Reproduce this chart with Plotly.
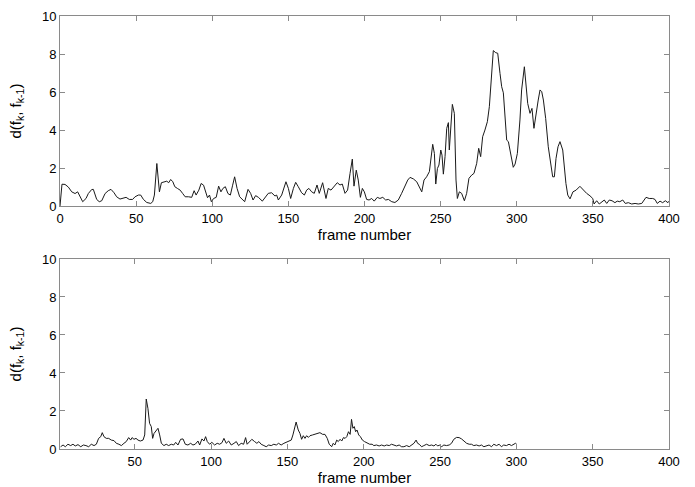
import plotly.graph_objects as go
from plotly.subplots import make_subplots

# ---- top panel data (frame number, distance) ----
top_frames = [0, 1.3, 3.3, 5.5, 7.7, 9.9, 11.6, 13.1, 14.9, 17.1, 18.6, 20.8, 21.9, 24.1, 25.8, 27.4,
              29.6, 31.7, 33.5, 35.5, 37.2, 39.4, 41.2, 43.4, 45.5, 47.7, 49.3, 51.5, 53.0, 54.8, 57.0,
              59.6, 60.9, 62.0, 63.6, 64.4, 65.3, 66.6, 68.4, 70.1, 71.4, 72.7, 74.1, 75.4, 77.1, 78.9,
              80.6, 82.2, 84.4, 86.5, 88.1, 89.4, 91.2, 92.7, 94.3, 95.6, 96.9, 98.2, 99.4, 100.9, 102.6,
              104.2, 105.7, 107.0, 108.6, 110.3, 111.9, 113.4, 114.7, 116.3, 118.0, 121.3, 123.5, 125.2,
              126.8, 128.5, 130.3, 132.9, 134.6, 136.8, 139.0, 141.2, 142.3, 143.4, 145.6, 148.4, 150.0,
              151.5, 153.3, 154.8, 156.5, 158.7, 160.5, 162.0, 163.5, 165.3, 167.0, 168.8, 170.3, 172.5,
              174.7, 176.2, 178.0, 180.0, 182.1, 183.9, 185.4, 187.2, 188.9, 190.5, 192.0, 193.1, 194.6,
              195.9, 197.3, 198.6, 199.9, 201.4, 203.0, 204.7, 206.4, 208.4, 210.1, 212.0, 213.9, 215.7,
              217.9, 220.0, 222.2, 224.4, 226.6, 228.4, 229.9, 232.1, 234.3, 236.0, 237.6, 239.1, 240.8,
              242.6, 243.5, 244.8, 245.9, 246.8, 247.9, 248.9, 250.1, 250.9, 251.8, 252.9, 254.0, 255.1,
              255.7, 256.6, 257.7, 259.0, 260.1, 261.0, 262.3, 263.8, 265.6, 267.1, 268.6, 270.4, 271.9,
              273.7, 275.0, 276.3, 277.6, 279.1, 280.7, 282.0, 283.1, 284.6, 286.2, 287.5, 289.0, 290.1,
              291.2, 292.3, 293.4, 294.5, 296.2, 297.7, 298.9, 300.4, 302.1, 303.2, 305.0, 306.1, 307.2,
              308.7, 310.0, 311.3, 312.6, 314.1, 315.3, 316.4, 317.5, 319.0, 320.7, 322.3, 323.6, 324.7,
              325.8, 327.1, 328.4, 330.2, 331.1, 332.3, 333.5, 335.0, 336.9, 339.0, 341.5, 343.7, 345.9,
              348.1, 349.9, 350.8, 352.5, 354.2, 355.8, 357.5, 359.1, 360.8, 362.6, 364.5, 366.0, 367.7,
              369.6, 371.3, 373.3, 375.5, 377.7, 379.8, 382.1, 383.6, 384.9, 387.0, 389.3, 390.8, 392.3,
              394.1, 395.8, 397.6, 399.3, 400]
top_values = [0, 1.15, 1.14, 1.0, 0.75, 0.66, 0.75, 0.49, 0.23, 0.40, 0.66, 0.87, 0.88, 0.35, 0.23, 0.28,
              0.66, 0.81, 0.88, 0.70, 0.49, 0.37, 0.40, 0.46, 0.35, 0.35, 0.49, 0.58, 0.58, 0.35, 0.19,
              0.14, 0.23, 0.58, 2.24, 1.37, 0.75, 1.23, 1.28, 1.31, 1.23, 1.40, 1.28, 1.02, 0.93, 0.84,
              0.66, 0.49, 0.49, 0.46, 0.81, 0.58, 0.84, 1.19, 1.10, 0.75, 0.44, 0.58, 0.23, 0.40, 0.46,
              1.05, 0.75, 0.93, 1.02, 0.66, 0.58, 1.10, 1.54, 0.93, 0.49, 0.23, 0.88, 0.67,
              0.32, 0.55, 0.46, 0.26, 0.46, 0.67, 0.70, 0.53, 0.58, 0.32, 0.58, 1.28, 0.93,
              0.40, 0.93, 1.25, 1.02, 0.70, 0.58, 0.84, 0.93, 0.75, 0.67, 1.11, 0.67, 1.23,
              0.40, 0.93, 0.84, 1.02, 1.23, 1.11, 1.16, 0.67, 0.84, 1.72, 2.47, 1.05, 1.89,
              1.37, 0.46, 0.93, 0.75, 0.35, 0.32, 0.40, 0.26, 0.46, 0.40, 0.46, 0.32, 0.35,
              0.23, 0.19, 0.32, 0.67, 1.02, 1.37, 1.51, 1.43, 1.28, 1.02, 0.75, 1.37, 1.54,
              1.81, 2.42, 3.25, 2.77, 1.16, 1.98, 2.16, 2.95, 2.68, 1.68, 2.60, 4.09, 4.39,
              2.95, 4.09, 5.35, 4.88, 1.37, 0.40, 0.75, 0.67, 0.28, 0.67, 1.46, 1.63, 1.72,
              2.25, 3.04, 2.60, 3.65, 4.00, 4.44, 5.23, 6.46, 8.18, 8.07, 8.04, 6.98, 6.28,
              5.96, 4.70, 3.47, 3.39, 2.60, 2.04, 2.21, 2.77, 4.53, 6.11, 7.33, 6.28, 5.40,
              4.88, 5.14, 4.09, 4.88, 5.58, 6.11, 6.02, 5.58, 4.61, 3.12, 2.07, 1.54, 1.54,
              2.51, 3.12, 3.39, 2.95, 2.07, 1.19, 0.58, 0.38, 0.75, 0.84, 1.04, 0.84, 0.67,
              0.54, 0.40, 0.11, 0.28, 0.11, 0.23, 0.32, 0.14, 0.32, 0.28, 0.18, 0.26, 0.23,
              0.32, 0.14, 0.18, 0.11, 0.14, 0.11, 0.14, 0.28, 0.46, 0.40, 0.40, 0.35, 0.14,
              0.26, 0.18, 0.28, 0.18, 0.26]

# ---- bottom panel data ----
bot_frames = [1.4, 3.0, 4.5, 6.2, 8.0, 9.5, 11.0, 12.8, 14.6, 16.3, 18.0, 19.8, 21.5, 23.3, 24.8, 26.3,
              27.7, 28.7, 29.8, 31.3, 32.9, 34.6, 36.4, 37.9, 39.6, 41.2, 42.9, 44.4, 46.0, 47.3, 48.2,
              49.5, 50.8, 52.1, 53.6, 55.4, 56.5, 57.5, 58.6, 59.7, 60.8, 61.7, 62.6, 64.1, 65.2, 66.3,
              67.4, 69.1, 70.6, 72.2, 73.9, 75.5, 76.8, 78.3, 80.0, 81.6, 83.1, 84.8, 86.6, 88.1, 89.6,
              91.4, 92.5, 94.0, 95.3, 96.4, 97.5, 99.0, 100.5, 102.3, 104.0, 105.6, 107.1, 108.4, 109.9,
              111.5, 113.2, 115.0, 116.5, 118.0, 119.7, 121.3, 122.6, 123.6, 125.2, 126.7, 128.5, 130.0,
              131.3, 132.8, 134.6, 136.1, 137.7, 139.4, 141.1, 142.7, 144.2, 145.9, 147.7, 149.2, 150.8,
              152.5, 153.6, 154.6, 155.7, 157.1, 158.2, 159.3, 160.4, 161.5, 162.6, 163.7, 164.8, 166.5,
              168.0, 169.5, 171.3, 173.1, 174.6, 176.1, 177.4, 179.0, 180.0, 181.1, 182.3, 183.3, 184.5,
              185.6, 186.7, 187.8, 188.9, 190.0, 191.1, 192.0, 192.9, 193.8, 194.7, 195.6, 196.7, 197.8,
              199.1, 200.5, 202.2, 203.9, 205.5, 206.6, 208.4, 210.1, 211.7, 213.4, 215.0, 216.7, 218.2,
              219.8, 221.5, 223.2, 224.8, 226.3, 228.1, 229.8, 231.4, 232.9, 234.3, 235.3, 236.4, 237.9,
              239.4, 241.2, 242.9, 244.5, 246.0, 247.3, 248.4, 249.9, 251.0, 252.5, 254.2, 256.0, 257.5,
              259.0, 260.8, 262.5, 264.1, 265.6, 267.4, 269.1, 270.6, 272.1, 273.9, 275.6, 277.1, 278.7,
              280.4, 282.1, 283.7, 285.2, 287.0, 288.7, 290.2, 291.7, 293.5, 295.2, 296.8, 298.3, 299.4,
              300.0]
bot_values = [0.12, 0.21, 0.12, 0.25, 0.18, 0.25, 0.16, 0.23, 0.12, 0.21, 0.18, 0.12, 0.25, 0.18, 0.25, 0.56,
              0.65, 0.86, 0.65, 0.56, 0.56, 0.47, 0.44, 0.30, 0.25, 0.18, 0.30, 0.39, 0.60, 0.47, 0.60,
              0.51, 0.56, 0.47, 0.42, 0.47, 0.74, 2.63, 2.14, 1.35, 1.18, 0.56, 0.82, 0.95, 1.09, 0.74,
              0.30, 0.18, 0.25, 0.18, 0.25, 0.21, 0.35, 0.21, 0.51, 0.53, 0.25, 0.21, 0.30, 0.21, 0.25,
              0.42, 0.21, 0.53, 0.42, 0.65, 0.39, 0.25, 0.35, 0.21, 0.30, 0.25, 0.33, 0.56, 0.30,
              0.42, 0.21, 0.30, 0.39, 0.18, 0.30, 0.25, 0.60, 0.25, 0.39, 0.51, 0.39, 0.30,
              0.39, 0.25, 0.18, 0.12, 0.21, 0.18, 0.25, 0.21, 0.30, 0.21, 0.30, 0.35, 0.39,
              0.47, 0.74, 1.09, 1.42, 1.00, 0.82, 0.51, 0.70, 0.56, 0.70, 0.61, 0.70, 0.74,
              0.77, 0.82, 0.86, 0.77, 0.77, 0.56, 0.25, 0.12, 0.30, 0.21, 0.47, 0.39, 0.51,
              0.42, 0.60, 0.56, 0.65, 0.91, 0.77, 1.56, 1.09, 1.18, 0.91, 1.00, 0.74, 0.65,
              0.47, 0.39, 0.30, 0.25, 0.25, 0.18, 0.21, 0.16, 0.21, 0.16, 0.21, 0.18, 0.25,
              0.21, 0.16, 0.21, 0.12, 0.12, 0.18, 0.12, 0.21, 0.30, 0.47, 0.30, 0.25, 0.12,
              0.18, 0.25, 0.18, 0.21, 0.16, 0.25, 0.16, 0.21, 0.12, 0.21, 0.18, 0.21, 0.30,
              0.51, 0.61, 0.60, 0.53, 0.42, 0.30, 0.25, 0.25, 0.18, 0.21, 0.16, 0.21, 0.12,
              0.18, 0.21, 0.12, 0.25, 0.18, 0.25, 0.12, 0.21, 0.18, 0.25, 0.18, 0.25, 0.30,
              0.28]

x_ticks = [0, 50, 100, 150, 200, 250, 300, 350, 400]
y_ticks = [0, 2, 4, 6, 8, 10]
x_title = "frame number"
y_title = "d(f<sub>k</sub>, f<sub>k-1</sub>)"

fig = make_subplots(rows=2, cols=1, vertical_spacing=0.1224)

line_style = dict(color="#1a1a1a", width=1)
fig.add_trace(go.Scatter(x=top_frames, y=top_values, mode="lines", line=line_style,
                         showlegend=False), row=1, col=1)
fig.add_trace(go.Scatter(x=bot_frames, y=bot_values, mode="lines", line=line_style,
                         showlegend=False), row=2, col=1)

axis_common = dict(showline=True, linecolor="#8a8a8a", linewidth=1, mirror="ticks",
                   ticks="inside", ticklen=5, tickcolor="#8a8a8a", showgrid=False,
                   zeroline=False, tickfont=dict(size=13, color="black"), automargin=False)

fig.update_xaxes(**axis_common, tickvals=x_ticks,
                 title=dict(text=x_title, font=dict(size=15, color="black"), standoff=1))
fig.update_xaxes(range=[0, 400], row=1, col=1)
fig.update_xaxes(range=[1, 400], row=2, col=1)
fig.update_yaxes(**axis_common, tickvals=y_ticks, range=[0, 10],
                 title=dict(text=y_title, font=dict(size=15, color="black"), standoff=16))

fig.update_layout(
    width=695, height=487,
    margin=dict(l=60, r=26, t=16, b=38),
    paper_bgcolor="white", plot_bgcolor="white",
    font=dict(family="Liberation Sans, Arial, sans-serif", color="black"),
)
fig.update_layout(yaxis=dict(domain=[0.561, 1.0]), yaxis2=dict(domain=[0.0, 0.4388]))

fig.write_html("out.html")
